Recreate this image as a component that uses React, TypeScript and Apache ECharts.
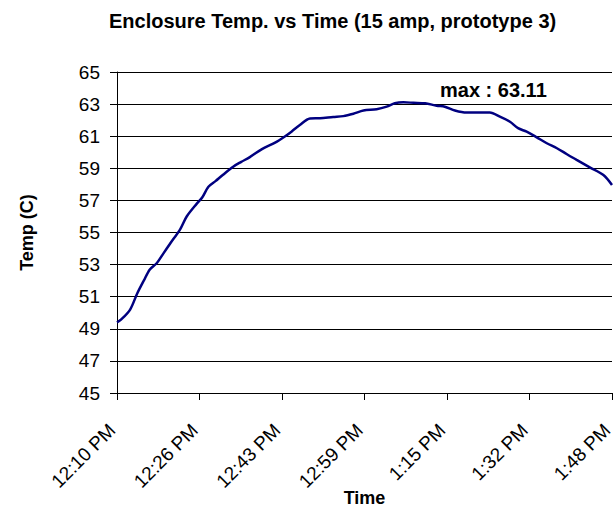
import React, { useEffect, useRef } from "react";
import * as echarts from "echarts";

const titleText = "Enclosure Temp. vs Time (15 amp, prototype 3)";
// minutes after 12:10 PM
const minutes = [0, 0.9, 2.6, 4.0, 5.3, 6.5, 7.9, 9.2, 10.5, 12.5, 13.8, 15.8, 16.9, 18.1, 19.5, 21.0, 23.0, 24.6, 26.3, 28.7, 31.3, 33.3, 34.6, 36.2, 38.2, 40.2, 42.8, 44.8, 46.8, 48.8, 51.4, 53.4, 55.0, 56.7, 58.7, 61.0, 63.3, 64.9, 66.9, 69.2, 73.8, 75.8, 77.8, 79.4, 81.1, 83.1, 85.1, 87.1, 89.0, 91.0, 93.6, 96.3, 98];
const temps = [49.4, 49.6, 50.2, 51.2, 52.0, 52.7, 53.1, 53.7, 54.3, 55.2, 56.0, 56.8, 57.2, 57.85, 58.2, 58.6, 59.1, 59.4, 59.7, 60.2, 60.6, 61.0, 61.3, 61.7, 62.1, 62.12, 62.2, 62.25, 62.4, 62.6, 62.68, 62.84, 63.05, 63.11, 63.08, 63.05, 62.9, 62.84, 62.6, 62.47, 62.47, 62.22, 61.9, 61.5, 61.28, 60.93, 60.56, 60.25, 59.89, 59.52, 59.06, 58.58, 57.96];
const timeLabels = ["12:10 PM", "12:26 PM", "12:43 PM", "12:59 PM", "1:15 PM", "1:32 PM", "1:48 PM"];
const xMax = 98;
const xInterval = xMax / 6;

export default function App() {
  const ref = useRef<HTMLDivElement>(null);
  useEffect(() => {
    if (!ref.current) return;
    const chart = echarts.init(ref.current, null, { renderer: "svg" });
    const font = "Arial, 'Liberation Sans', sans-serif";
    chart.setOption({
      animation: false,
      backgroundColor: "#ffffff",
      title: {
        text: titleText,
        left: 109,
        top: 6,
        padding: [5, 0, 5, 0],
        textStyle: { fontFamily: font, fontSize: 20, fontWeight: "bold", color: "#000" },
      },
      grid: { left: 117, right: 1, top: 72, bottom: 115, containLabel: false, outerBoundsMode: "none" },
      xAxis: {
        type: "value",
        min: 0,
        max: xMax,
        interval: xInterval,
        name: "Time",
        nameLocation: "middle",
        nameGap: 96,
        nameMoveOverlap: false,
        nameTextStyle: { fontFamily: font, fontSize: 18, fontWeight: "bold", color: "#000" },
        axisLine: { show: true, lineStyle: { color: "#000", width: 1 } },
        axisTick: { show: true, inside: false, length: 7, lineStyle: { color: "#000" } },
        splitLine: { show: false },
        axisLabel: {
          rotate: 45,
          margin: 29,
          padding: [0, 7, 0, 0],
          fontFamily: font,
          fontSize: 19,
          color: "#000",
          formatter: (v: number) => timeLabels[Math.round(v / xInterval)] ?? "",
        },
      },
      yAxis: {
        type: "value",
        min: 45,
        max: 65,
        interval: 2,
        name: "Temp (C)",
        nameLocation: "middle",
        nameGap: 81,
        nameMoveOverlap: false,
        nameTextStyle: { fontFamily: font, fontSize: 18, fontWeight: "bold", color: "#000" },
        axisLine: { show: true, lineStyle: { color: "#000", width: 1 } },
        axisTick: { show: true, inside: false, length: 7, lineStyle: { color: "#000" } },
        splitLine: { show: true, lineStyle: { color: "#000", width: 1 } },
        axisLabel: { margin: 17, fontFamily: font, fontSize: 19, color: "#000" },
      },
      series: [
        {
          type: "line",
          data: minutes.map((m, i) => [m, temps[i]]),
          showSymbol: false,
          symbol: "none",
          smooth: 0.3,
          lineStyle: { color: "#000080", width: 2.5 },
          markPoint: {
            symbol: "circle",
            symbolSize: 0,
            data: [{ type: "max", name: "max" }],
            label: {
              show: true,
              position: "inside",
              offset: [90, -12],
              formatter: (p: any) => "max : " + Number(p.value).toFixed(2),
              fontFamily: font,
              fontSize: 20,
              fontWeight: "bold",
              color: "#000",
            },
          },
        },
      ],
    });
    return () => chart.dispose();
  }, []);
  return (
    <div
      ref={ref}
      style={{ position: "fixed", left: 0, top: 0, width: 613, height: 508 }}
    />
  );
}
